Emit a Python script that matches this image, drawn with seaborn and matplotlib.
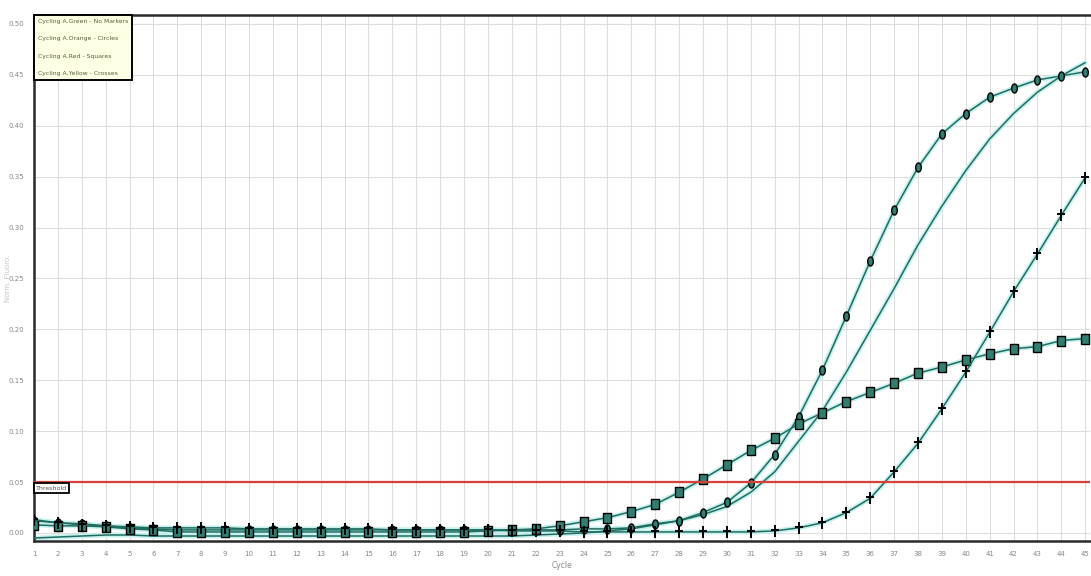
import numpy as np
import pandas as pd
import matplotlib
matplotlib.use("Agg")
import matplotlib.pyplot as plt
from matplotlib.path import Path
from matplotlib.lines import Line2D
import seaborn as sns

# Amplification data: normalised fluorescence per cycle
cycles = list(range(1, 46))

green_no_markers = [
    -0.005, -0.004, -0.003, -0.002, -0.002, -0.003, -0.003, -0.003, -0.003, -0.003,
    -0.003, -0.003, -0.003, -0.003, -0.003, -0.003, -0.003, -0.003, -0.003, -0.003,
    -0.003, -0.002, -0.001, 0.000, 0.002, 0.004, 0.008, 0.012, 0.018, 0.026,
    0.040, 0.060, 0.090, 0.120, 0.158, 0.199, 0.240, 0.283, 0.321, 0.356,
    0.387, 0.412, 0.433, 0.449, 0.462,
]
orange_circles = [
    0.012, 0.010, 0.009, 0.007, 0.005, 0.004, 0.003, 0.003, 0.003, 0.003,
    0.003, 0.003, 0.003, 0.003, 0.003, 0.003, 0.003, 0.003, 0.003, 0.003,
    0.003, 0.003, 0.003, 0.004, 0.004, 0.005, 0.009, 0.012, 0.020, 0.030,
    0.049, 0.077, 0.114, 0.160, 0.213, 0.267, 0.317, 0.359, 0.392, 0.412,
    0.428, 0.437, 0.445, 0.449, 0.453,
]
red_squares = [
    0.008, 0.007, 0.007, 0.006, 0.004, 0.003, 0.001, 0.001, 0.001, 0.001,
    0.001, 0.001, 0.001, 0.001, 0.001, 0.001, 0.001, 0.001, 0.001, 0.002,
    0.003, 0.004, 0.007, 0.011, 0.015, 0.021, 0.028, 0.040, 0.053, 0.067,
    0.081, 0.093, 0.107, 0.118, 0.129, 0.138, 0.147, 0.157, 0.163, 0.170,
    0.176, 0.181, 0.183, 0.189, 0.191,
]
yellow_crosses = [
    0.013, 0.010, 0.008, 0.007, 0.006, 0.005, 0.005, 0.005, 0.005, 0.004,
    0.004, 0.004, 0.004, 0.004, 0.004, 0.003, 0.003, 0.003, 0.003, 0.003,
    0.002, 0.002, 0.002, 0.001, 0.001, 0.001, 0.001, 0.001, 0.001, 0.001,
    0.001, 0.002, 0.005, 0.010, 0.020, 0.034, 0.060, 0.088, 0.122, 0.158,
    0.197, 0.237, 0.274, 0.312, 0.349,
]

legend_labels = [
    "Cycling A.Green - No Markers",
    "Cycling A.Orange - Circles",
    "Cycling A.Red - Squares",
    "Cycling A.Yellow - Crosses",
]
threshold = 0.05
y_ticks = [0.00, 0.05, 0.10, 0.15, 0.20, 0.25, 0.30, 0.35, 0.40, 0.45, 0.50]

sns.set_style("white")
plt.rcParams["font.family"] = ["DejaVu Sans"]

LINE = "#1f6d61"
FILL = "#2f7f70"
HALO = "#c6f1ee"

# marker shapes: tall oval, tall rectangle, tall plus
theta = np.linspace(0, 2 * np.pi, 32)
oval = list(zip(0.62 * np.cos(theta), np.sin(theta)))
rect = [(-0.7, -1.0), (0.7, -1.0), (0.7, 1.0), (-0.7, 1.0), (-0.7, -1.0)]
plus = Path([(-0.6, 0.1), (0.6, 0.1), (0.0, -1.0), (0.0, 1.0)],
            [Path.MOVETO, Path.LINETO, Path.MOVETO, Path.LINETO])

fig = plt.figure(figsize=(10.91, 5.76), dpi=100)
ax = fig.add_axes([34 / 1091, 35 / 576, (1090 - 34) / 1091, (541 - 15) / 576])

series = [
    (green_no_markers, dict(marker=None)),
    (orange_circles, dict(marker=oval, markersize=6.5, markerfacecolor=FILL,
                          markeredgecolor="black", markeredgewidth=1.0)),
    (red_squares, dict(marker=rect, markersize=7.5, markerfacecolor=FILL,
                       markeredgecolor="black", markeredgewidth=1.0)),
    (yellow_crosses, dict(marker=plus, markersize=9, markeredgecolor="black",
                          markeredgewidth=1.4)),
]
# soft halo under every curve first, then the curves with their markers
for vals, _ in series:
    df = pd.DataFrame({"Cycle": cycles, "Value": vals})
    sns.lineplot(data=df, x="Cycle", y="Value", ax=ax, color=HALO,
                 linewidth=3.5, zorder=2)
for vals, style in series:
    df = pd.DataFrame({"Cycle": cycles, "Value": vals})
    sns.lineplot(data=df, x="Cycle", y="Value", ax=ax, color=LINE,
                 linewidth=1.1, zorder=3, **style)

# threshold line and tag
ax.axhline(threshold, color="#d8413b", linewidth=1.6, zorder=4)
ax.text(1.08, threshold - 0.0035, "Threshold", fontsize=4.5, color="#555555",
        va="top", ha="left", zorder=5,
        bbox=dict(boxstyle="square,pad=0.35", facecolor="white",
                  edgecolor="black", linewidth=1.3))

ax.set_xlim(1, 45.2)
ax.set_ylim(-0.0079, 0.5088)
ax.set_xticks(cycles)
ax.set_xticklabels([str(c) for c in cycles])
ax.set_yticks(y_ticks)
ax.set_yticklabels([f"{v:.2f}" for v in y_ticks])
ax.tick_params(axis="both", labelsize=5, colors="#888888", length=3,
               width=0.8, direction="out", pad=4)
ax.grid(True, color="#dddddd", linewidth=0.8, zorder=0)
ax.set_axisbelow(True)

for side in ("left", "bottom", "top"):
    ax.spines[side].set_visible(True)
    ax.spines[side].set_color("#2a2a2a")
    ax.spines[side].set_linewidth(1.8)
ax.spines["right"].set_visible(False)

ax.set_xlabel("Cycle", fontsize=5.5, color="#888888", labelpad=3)
ax.set_ylabel("Norm. Fluoro.", fontsize=5, color="#c4c4c4")
ax.yaxis.set_label_coords(-0.022, 0.5)

handles = [Line2D([], [], linestyle="none", marker=None) for _ in legend_labels]
leg = ax.legend(handles, legend_labels, loc="upper left", bbox_to_anchor=(0, 1),
                borderaxespad=0, fontsize=4.4, handlelength=0, handletextpad=0,
                labelspacing=2.0, borderpad=0.6, frameon=True, fancybox=False,
                facecolor="#ffffe6", edgecolor="black", framealpha=1)
leg.get_frame().set_linewidth(1.4)
for t in leg.get_texts():
    t.set_color("#5a5a3a")
leg.set_zorder(6)

fig.savefig("out.png", dpi=100)
